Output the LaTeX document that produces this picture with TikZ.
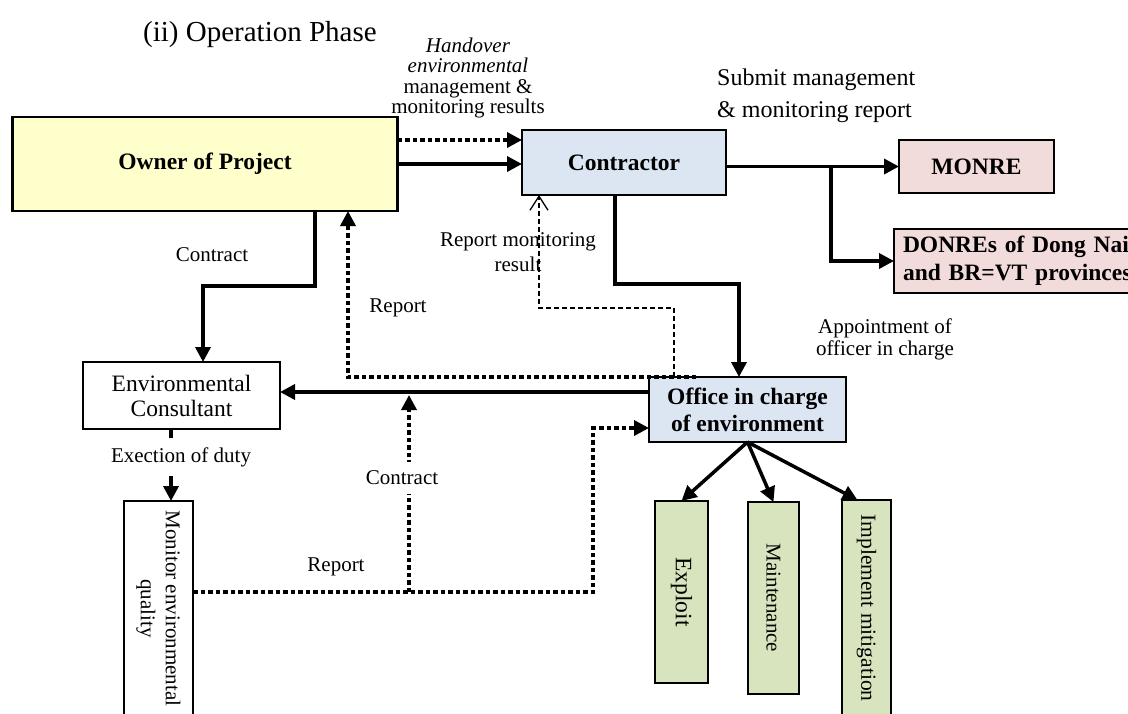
\documentclass[tikz,border=0pt]{standalone}
\usepackage{fontspec}
\setmainfont{Liberation Serif}
\usetikzlibrary{arrows.meta}
\definecolor{cyellow}{HTML}{FFFFCC}
\definecolor{cblue}{HTML}{DCE6F2}
\definecolor{cpink}{HTML}{F2DCDB}
\definecolor{cgreen}{HTML}{D7E4BD}
\newcommand{\fbig}{\fontsize{23.5}{27}\selectfont}
\newcommand{\fsmall}{\fontsize{21}{22}\selectfont}
\tikzset{
 box/.style={draw, line width=2.8pt, inner sep=2pt, outer sep=0pt, align=center, font=\fbig},
 bbox/.style={box, font=\fbig\bfseries},
 conn/.style={line width=3.5pt},
 arr/.style={conn, -{Triangle[length=15pt,width=15pt]}},
 dotline/.style={line width=3.5pt, dash pattern=on 4.5pt off 3pt},
 dotarr/.style={dotline, -{Triangle[length=15pt,width=15pt]}},
 thinarr/.style={line width=1.3pt, dash pattern=on 5pt off 3pt, -{Straight Barb[length=14pt,width=18pt]}},
 lbl/.style={font=\fsmall, align=center, inner sep=1pt},
}
\begin{document}
\begin{tikzpicture}[x=1pt,y=-1pt]
\useasboundingbox (0,0) rectangle (1128,713);
% title
\node[anchor=base west, font=\fontsize{29}{32}\selectfont, inner sep=0pt] (title) at (143,41) {(ii) Operation Phase};
% boxes
\node[bbox, fill=cyellow, minimum width=385, minimum height=94] (owner) at (205,164) {Owner of Project};
\node[bbox, fill=cblue, minimum width=204, minimum height=65] (contractor) at (624,162.5) {Contractor};
\node[bbox, fill=cpink, minimum width=155, minimum height=53] (monre) at (976.5,166.5) {MONRE};
\node[bbox, fill=cpink, anchor=north west, text width=240pt, inner xsep=9pt, minimum height=64, align=left, font=\fontsize{23.5}{28}\selectfont\bfseries] (donre) at (894,229) {DONREs of Dong Nai\\and BR=VT provinces};
\node[box, minimum width=197, minimum height=67, font=\fontsize{23.5}{25}\selectfont] (envc) at (181.5,395.5) {Environmental\\Consultant};
\node[bbox, fill=cblue, minimum width=197, minimum height=65] (office) at (747.5,409.5) {Office in charge\\of environment};
\node[box, rotate=-90, minimum width=215, minimum height=69, font=\fontsize{21}{25}\selectfont] (monitor) at (158.5,608.5) {Monitor environmental\\quality};
\node[box, fill=cgreen, rotate=-90, minimum width=182, minimum height=53] (exploit) at (681.5,592) {Exploit};
\node[box, fill=cgreen, rotate=-90, minimum width=192, minimum height=51, font=\fsmall] (maint) at (773.5,598) {Maintenance};
\node[box, fill=cgreen, rotate=-90, minimum width=216, minimum height=49, font=\fontsize{21.5}{24}\selectfont] (impl) at (866.5,608) {Implement mitigation};
% helper coordinates
\coordinate (xA) at (315,0); \coordinate (xB) at (203,0); \coordinate (yA) at (0,286);
\coordinate (xC) at (171,0);
\coordinate (xD) at (696,0); \coordinate (xE) at (348,0);
\coordinate (xF) at (674,0); \coordinate (xG) at (539,0); \coordinate (yB) at (0,308);
\coordinate (xH) at (615,0); \coordinate (xI) at (739,0); \coordinate (yC) at (0,284);
\coordinate (yD) at (0,392); \coordinate (yD2) at (0,395);
\coordinate (xJ) at (409,0); \coordinate (yE) at (0,592); \coordinate (yF) at (0,428); \coordinate (xK) at (593,0);
\coordinate (xL) at (831,0);
\coordinate (d1) at ([yshift=24pt]owner.east);
% connectors
\draw[dotarr] (d1) -- (d1 -| contractor.west);
\draw[arr] (owner.east) -- (owner.east -| contractor.west);
\draw[arr] (monre.west -| contractor.east) -- (monre.west);
\draw[arr] (monre.west -| xL) |- (donre.west);
\draw[arr] (owner.south -| xA) |- (yA -| xB) -- (envc.north -| xB);
\draw[arr] (envc.south -| xC) -- (monitor.west -| xC);
\draw[dotarr] (office.north -| xD) -| (owner.south -| xE);
\draw[thinarr] (office.north -| xF) |- (yB -| xG) -- (contractor.south -| xG);
\draw[arr] (contractor.south -| xH) |- (yC -| xI) -- (office.north -| xI);
\draw[arr] (office.west |- yD) -- (envc.east |- yD);
\draw[dotarr] (yE -| xJ) -- (yD2 -| xJ);
\draw[dotarr] (monitor.north |- yE) -| (yF -| xK) -- (office.west |- yF);
\draw[arr] (office.south) -- (exploit.west);
\draw[arr] (office.south) -- (maint.west);
\draw[arr] (office.south) -- ([xshift=-9pt]impl.west);
% labels
\node[lbl, font=\fontsize{21}{20.3}\selectfont] (handover) at (468,78) {\textit{Handover}\\\textit{environmental}\\management \&\\monitoring results};
\node[lbl, font=\fontsize{24}{32}\selectfont, align=left, anchor=west] (submit) at (716,96) {Submit management\\\& monitoring report};
\node[lbl] (lcontracta) at (212,255) {Contract};
\node[lbl] (lreporta) at (398,308) {Report};
\node[lbl, font=\fontsize{21}{25}\selectfont] (lrmr) at (518,252) {Report monitoring\\result};
\node[lbl] (lappt) at (885,339) {Appointment of\\officer in charge};
\node[lbl] (lreportb) at (336,567) {Report};
\node[lbl, fill=white, inner ysep=9pt] (lcontractb) at (402,478) {Contract};
\node[lbl, fill=white, inner ysep=9pt] (lexec) at (181,457) {Exection of duty};
\end{tikzpicture}
\end{document}
